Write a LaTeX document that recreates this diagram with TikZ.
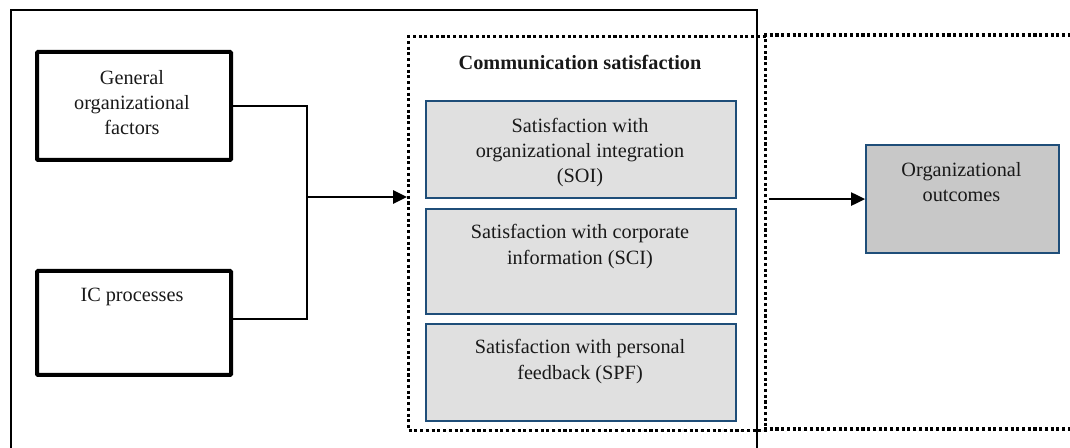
\documentclass[tikz,border=0pt]{standalone}
\usepackage{fontspec}
\setmainfont{Liberation Serif}
\usetikzlibrary{arrows.meta}
\definecolor{bluebd}{HTML}{1F4E79}
\definecolor{lightfill}{HTML}{E0E0E0}
\definecolor{darkfill}{HTML}{C8C8C8}
\tikzset{
  thickbox/.style={draw=black, line width=3pt, rounded corners=0.8pt, minimum width=145.5pt, minimum height=81pt, anchor=north west, inner sep=0pt},
  satbox/.style={draw=bluebd, fill=lightfill, line width=1.6pt, minimum width=232.5pt, anchor=north west, inner sep=0pt},
  outbox/.style={draw=bluebd, fill=darkfill, line width=1.6pt, minimum width=144.75pt, minimum height=81pt, anchor=north west, inner sep=0pt},
  txt/.style={font=\fontsize{15.2}{19}\selectfont, align=center, inner sep=0pt, text=black!90},
  dotline/.style={line width=2.5pt, dash pattern=on 2.3pt off 2pt},
  frame/.style={line width=1.1pt},
  conn/.style={line width=0.9pt},
  arr/.style={line width=1.4pt, -{Triangle[length=10.5pt,width=10pt]}}
}
\begin{document}
\begin{tikzpicture}[x=0.75pt,y=-0.75pt]
\useasboundingbox (0,0) rectangle (1070,448);
\clip (0,0) rectangle (1070,448);
% outer solid frame (open at bottom)
\draw[frame] (11,452) -- (11,10) -- (757,10) -- (757,452);
% dotted frames
\node[draw, dotline, minimum width=267.75pt, minimum height=295.5pt, anchor=north west, inner sep=0pt] (cs) at (407,35) {};
\draw[dotline] (764,35) -- (1078,35);
\draw[dotline] (764,429) -- (1078,429);
\node[txt, font=\fontsize{15.2}{19}\selectfont\bfseries] (cst) at (580,62) {Communication satisfaction};
% left boxes
\node[thickbox] (gof) at (35,50) {};
\node[txt] (goft) at (132,102.5) {General\\organizational\\factors};
\node[thickbox, minimum height=78pt] (ic) at (35,269) {};
\node[txt] (ict) at (132,297) {IC processes};
% satisfaction boxes
\node[satbox, minimum height=72.75pt] (soi) at (425,100) {};
\node[txt] (soit) at (580,152.5) {Satisfaction with\\organizational integration\\(SOI)};
\node[satbox, minimum height=78.75pt] (sci) at (425,208) {};
\node[txt] (scit) at (580,246.5) {Satisfaction with corporate\\information (SCI)};
\node[satbox, minimum height=72.75pt] (spf) at (425,323) {};
\node[txt] (spft) at (580,361.5) {Satisfaction with personal\\feedback (SPF)};
% outcomes
\node[outbox] (oo) at (865,144) {};
\node[txt] (oot) at (961.5,182) {Organizational\\outcomes};
% connectors
\coordinate (jm) at (307,197);
\draw[conn] (gof.east) -| (jm) |- ([yshift=3pt]ic.east);
\draw[arr] (jm) -- (jm -| cs.west);
\draw[arr] ([xshift=1pt]oo.west -| cs.east) -- (oo.west);
\end{tikzpicture}
\end{document}
